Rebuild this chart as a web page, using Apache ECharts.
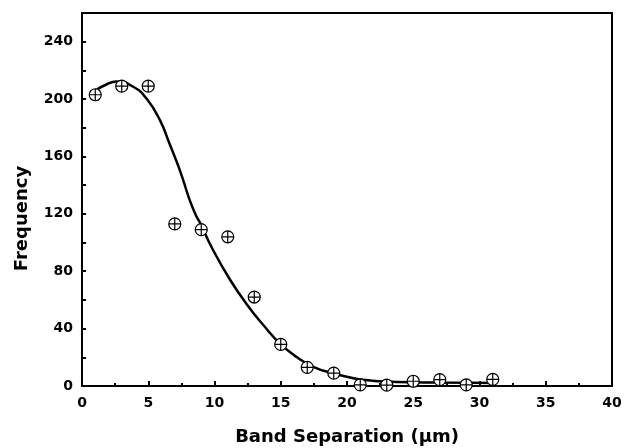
<!DOCTYPE html>
<html>
<head>
<meta charset="utf-8">
<script src="https://cdn.jsdelivr.net/npm/echarts@6/dist/echarts.min.js"></script>
<style>
  html, body { margin: 0; padding: 0; background: #fff; }
  #chart { width: 624px; height: 448px; }
</style>
</head>
<body>
<div id="chart"></div>
<script>
// measured points
const sepX = [1, 3, 5, 7, 9, 11, 13, 15, 17, 19, 21, 23, 25, 27, 29, 31];
const freq = [203, 209, 209, 113, 109, 104, 62, 29, 13, 9, 0.8, 0.6, 3.3, 4.4, 0.8, 4.6];

// fitted curve
const fitX = [1, 1.8, 2.6, 3.9, 4.9, 5.9, 6.6, 7.4, 8.15, 8.65, 8.9, 9.9, 11.2, 12.4, 13.7, 14.95, 16.2, 17.5, 19, 19.5, 21.2, 23.75, 27, 31.3];
const fitY = [206, 210, 212.3, 208.4, 200, 185, 169, 150, 129, 118, 114, 94.6, 73.7, 57.4, 42.3, 29.5, 20.2, 13.2, 8.6, 7.5, 4.4, 2.8, 2.4, 2.1];

const font = 'DejaVu Sans';
const crossCircle = 'path://M0,-10A10,10,0,1,1,0,10A10,10,0,1,1,0,-10ZM-10,0L10,0M0,-10L0,10';

var myChart = echarts.init(document.getElementById('chart'));
var option = {
    animation: false,
    grid: {
        left: 82, right: 12, top: 13, bottom: 62,
        outerBoundsMode: 'none',
        show: true,
        borderColor: '#000',
        borderWidth: 2
    },
    xAxis: {
        type: 'value',
        min: 0, max: 40, interval: 5,
        name: 'Band Separation (\u03bcm)',
        nameLocation: 'middle',
        nameGap: 42,
        nameTextStyle: { fontFamily: font, fontWeight: 'bold', fontSize: 18, color: '#000' },
        axisLine: { lineStyle: { color: '#000', width: 2 } },
        axisTick: { inside: true, length: 5, lineStyle: { color: '#000', width: 2 } },
        minorTick: { show: true, splitNumber: 2, length: 3, lineStyle: { color: '#000', width: 2 } },
        axisLabel: { fontFamily: font, fontWeight: 'bold', fontSize: 14, color: '#000', margin: 10 },
        splitLine: { show: false }
    },
    yAxis: {
        type: 'value',
        min: 0, max: 260, interval: 40,
        name: 'Frequency',
        nameLocation: 'middle',
        nameGap: 51,
        nameTextStyle: { fontFamily: font, fontWeight: 'bold', fontSize: 18, color: '#000', padding: [0, 38, 0, 0] },
        axisLine: { lineStyle: { color: '#000', width: 2 } },
        axisTick: { inside: true, length: 4, lineStyle: { color: '#000', width: 2 } },
        minorTick: { show: true, splitNumber: 2, length: 4, lineStyle: { color: '#000', width: 2 } },
        axisLabel: { fontFamily: font, fontWeight: 'bold', fontSize: 14, color: '#000', margin: 9, showMaxLabel: false },
        splitLine: { show: false }
    },
    series: [
        {
            type: 'line',
            data: fitX.map((x, i) => [x, fitY[i]]),
            smooth: 0.5,
            showSymbol: false,
            lineStyle: { color: '#000', width: 2.5 },
            z: 2
        },
        {
            type: 'scatter',
            data: sepX.map((x, i) => [x, freq[i]]),
            symbol: crossCircle,
            symbolSize: 12,
            itemStyle: { color: '#fff', borderColor: '#000', borderWidth: 1.2, opacity: 1 },
            z: 3
        }
    ]
};
myChart.setOption(option);
</script>
</body>
</html>
